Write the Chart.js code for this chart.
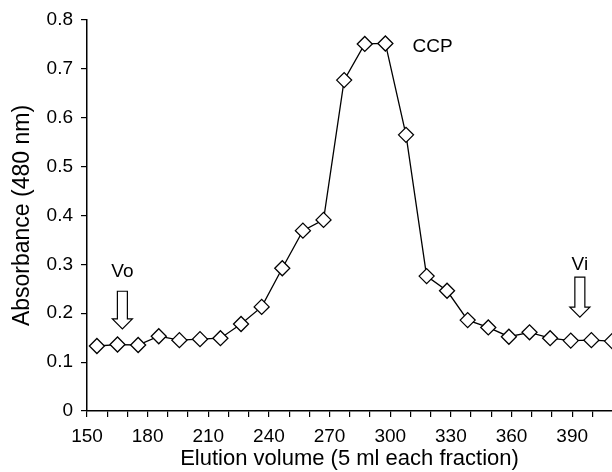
<!DOCTYPE html>
<html>
<head>
<meta charset="utf-8">
<script src="https://cdn.jsdelivr.net/npm/chart.js@4/dist/chart.umd.min.js"></script>
<style>
  html, body { margin: 0; padding: 0; background: #fff; }
  canvas { display: block; }
</style>
</head>
<body>
<canvas id="myChart" width="612" height="472"></canvas>
<script>
// elution volume (ml) of each fraction
var volumes = [154.9, 165.1, 175.3, 185.5, 195.7, 205.9, 216.0, 226.2, 236.4, 246.6,
               256.8, 267.0, 277.2, 287.4, 297.6, 307.8, 318.0, 328.1, 338.3, 348.5,
               358.7, 368.9, 379.1, 389.3, 399.5, 409.7];
// absorbance at 480 nm
var absorbance = [0.133, 0.136, 0.135, 0.153, 0.145, 0.147, 0.149, 0.178, 0.213, 0.292,
                  0.369, 0.391, 0.677, 0.751, 0.752, 0.565, 0.276, 0.246, 0.186, 0.171,
                  0.152, 0.161, 0.149, 0.144, 0.145, 0.143];

var xLabels = [150, 180, 210, 240, 270, 300, 330, 360, 390];

// marker labels: [text, x, y, arrowTop, arrowTip]
var markers = [
  ['Vo', 167.5, 0.284, 0.245, 0.168],
  ['Vi', 393.8, 0.299, 0.274, 0.192]
];
var peakLabel = ['CCP', 311, 0.745];

var font = 'Liberation Sans, Arial, sans-serif';

var notes = {
  id: 'notes',
  afterDatasetsDraw: function(chart) {
    var ctx = chart.ctx;
    var xs = chart.scales.x, ys = chart.scales.y;
    ctx.save();
    ctx.fillStyle = '#000';
    ctx.strokeStyle = '#000';
    ctx.lineWidth = 1.2;
    ctx.font = '19px ' + font;
    ctx.textBaseline = 'middle';
    markers.forEach(function(m) {
      var x = xs.getPixelForValue(m[1]);
      ctx.textAlign = 'center';
      ctx.fillText(m[0], x, ys.getPixelForValue(m[2]));
      var top = ys.getPixelForValue(m[3]);
      var tip = ys.getPixelForValue(m[4]);
      var neck = tip - 10;
      // hollow down arrow
      ctx.beginPath();
      ctx.moveTo(x - 5, top);
      ctx.lineTo(x + 5, top);
      ctx.lineTo(x + 5, neck);
      ctx.lineTo(x + 10, neck);
      ctx.lineTo(x, tip);
      ctx.lineTo(x - 10, neck);
      ctx.lineTo(x - 5, neck);
      ctx.closePath();
      ctx.fillStyle = '#fff';
      ctx.fill();
      ctx.stroke();
      ctx.fillStyle = '#000';
    });
    ctx.textAlign = 'left';
    ctx.fillText(peakLabel[0], xs.getPixelForValue(peakLabel[1]), ys.getPixelForValue(peakLabel[2]));
    ctx.restore();
  }
};

var ctx = document.getElementById('myChart').getContext('2d');
var chart = new Chart(ctx, {
  type: 'line',
  data: {
    datasets: [{
      data: volumes.map(function(v, i) { return { x: v, y: absorbance[i] }; }),
      borderColor: '#000',
      borderWidth: 1.3,
      backgroundColor: '#fff',
      pointStyle: 'rectRot',
      pointRadius: 7.5,
      pointBorderWidth: 1.3,
      pointBackgroundColor: '#fff',
      pointBorderColor: '#000',
      tension: 0,
      clip: false
    }]
  },
  options: {
    responsive: false,
    animation: false,
    events: [],
    layout: { autoPadding: false, padding: { top: 20, right: 0, left: 0, bottom: 0 } },
    plugins: { legend: { display: false }, tooltip: { enabled: false } },
    scales: {
      x: {
        type: 'linear',
        min: 150,
        max: 409.7,
        border: { display: true, color: '#000', width: 1.5 },
        grid: { drawOnChartArea: false, color: '#000', tickLength: 6, lineWidth: 1.2 },
        ticks: {
          stepSize: 10,
          includeBounds: false,
          autoSkip: false,
          maxRotation: 0,
          padding: 8,
          color: '#000',
          font: { family: font, size: 19 },
          callback: function(v) { return xLabels.indexOf(v) >= 0 ? String(v) : ''; }
        },
        title: {
          display: true,
          text: 'Elution volume (5 ml each fraction)',
          color: '#000',
          font: { family: font, size: 22 },
          padding: { top: 0, bottom: 0 }
        },
        afterFit: function(s) { s.height = 61; }
      },
      y: {
        min: 0,
        max: 0.8,
        border: { display: true, color: '#000', width: 1.5 },
        grid: { drawOnChartArea: false, color: '#000', tickLength: 6, lineWidth: 1.2 },
        ticks: {
          stepSize: 0.1,
          padding: 8,
          color: '#000',
          font: { family: font, size: 19 }
        },
        title: {
          display: true,
          text: 'Absorbance (480 nm)',
          color: '#000',
          font: { family: font, size: 23 },
          padding: { top: 9, bottom: 0 }
        },
        afterFit: function(s) { s.width = 87; }
      }
    }
  },
  plugins: [notes]
});
</script>
</body>
</html>
